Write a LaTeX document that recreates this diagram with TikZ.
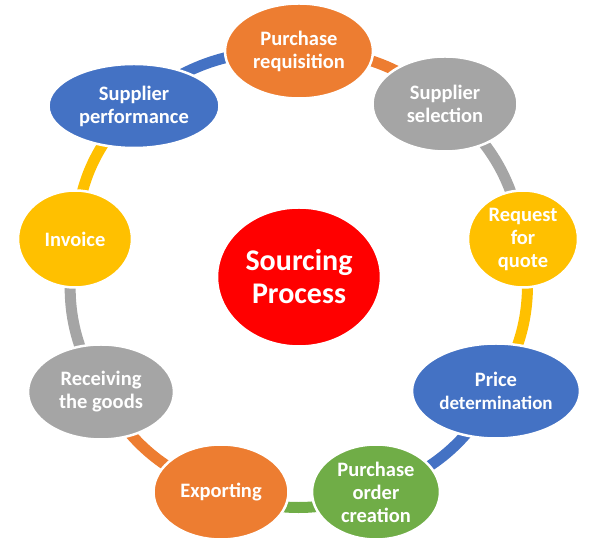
\documentclass[tikz,border=0pt]{standalone}
\usepackage{fontspec}
\newfontfamily\calibri{Carlito}
\definecolor{offorange}{HTML}{ED7D31}
\definecolor{offgray}{HTML}{A5A5A5}
\definecolor{offyellow}{HTML}{FFC000}
\definecolor{offblue}{HTML}{4472C4}
\definecolor{offgreen}{HTML}{70AD47}
\definecolor{offred}{HTML}{FF0000}
\usetikzlibrary{shapes.geometric, backgrounds}

\begin{document}
\begin{tikzpicture}[x=1pt, y=1pt,
    stage/.style={ellipse, draw=white, line width=2.5pt, inner sep=0pt,
                  minimum height=95pt, align=center, text=white,
                  font=\calibri\bfseries\fontsize{20.5}{23}\selectfont},
    link/.style={line width=11pt, bend left=20}
  ]
    \useasboundingbox (0,0) rectangle (596,545);

    % centre
    \node[stage, fill=offred, minimum width=164pt, minimum height=139pt,
          font=\calibri\bfseries\fontsize{30}{33}\selectfont] (src) at (299,268)
      {Sourcing\\Process};

    % the cycle, clockwise from the top
    \node[stage, fill=offorange, minimum width=148pt] (req) at (299,494)
      {Purchase\\requisition};
    \node[stage, fill=offgray, minimum width=145pt] (sel) at (445,441)
      {Supplier\\selection};
    \node[stage, fill=offyellow, minimum width=110pt, minimum height=97pt] (rfq) at (523,306)
      {Request\\for\\quote};
    \node[stage, fill=offblue, minimum width=168pt] (price) at (496,154)
      {Price\\{\fontsize{19}{21}\selectfont determination}};
    \node[stage, fill=offgreen, minimum width=128pt] (po) at (376,53)
      {Purchase\\order\\creation};
    \node[stage, fill=offorange, minimum width=135pt] (exp) at (221,53)
      {Exporting};
    \node[stage, fill=offgray, minimum width=146pt] (recv) at (101,153)
      {Receiving\\the goods};
    \node[stage, fill=offyellow, minimum width=114pt, minimum height=97pt] (inv) at (75,306)
      {Invoice};
    \node[stage, fill=offblue, minimum width=171pt, minimum height=84pt] (perf) at (134,439)
      {Supplier\\performance};

    \begin{scope}[on background layer]
      \draw[link, offorange] (req.center) to (sel.center);
      \draw[link, offgray] (sel.center) to (rfq.center);
      \draw[link, offyellow] (rfq.center) to (price.center);
      \draw[link, offblue] (price.center) to (po.center);
      \draw[link, offgreen] (po.center) to (exp.center);
      \draw[link, offorange] (exp.center) to (recv.center);
      \draw[link, offgray] (recv.center) to (inv.center);
      \draw[link, offyellow] (inv.center) to (perf.center);
      \draw[link, offblue] (perf.center) to (req.center);
    \end{scope}
\end{tikzpicture}
\end{document}
